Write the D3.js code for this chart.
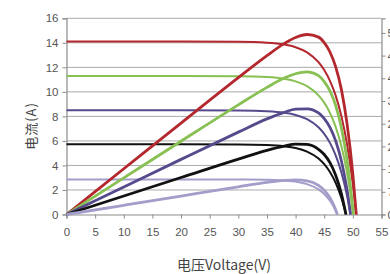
<!DOCTYPE html>
<html><head><meta charset="utf-8">
<script src="https://cdn.jsdelivr.net/npm/d3@7"></script>
<style>
html,body{margin:0;padding:0;background:#fff;overflow:hidden}
svg{display:block}
text{font-family:"Liberation Sans",Arial,sans-serif}
.cjk{font-family:"Noto Sans CJK SC","Liberation Sans",sans-serif}
</style></head>
<body>
<svg id="c" width="390" height="274"></svg>
<script>
// Voltage sample points (V)
const voltage = [0, 10, 20, 30, 35, 38, 40, 42, 44, 45, 46, 47, 48, 49, 50];
const seriesNames = ["S1", "S2", "S3", "S4", "S5"];
const seriesColors = ["#b3272d", "#88c053", "#574a8c", "#111111", "#a29ec9"];
// open-circuit voltage of each series (V)
const voc = [50.6, 50.1, 49.6, 48.8, 47.3];
// current (A), left axis
const current1 = [14.1, 14.1, 14.1, 14.08, 14.01, 13.86, 13.64, 13.22, 12.42, 11.78, 10.9, 9.69, 8.01, 5.68, 2.48];
const current2 = [11.3, 11.3, 11.3, 11.28, 11.21, 11.07, 10.86, 10.47, 9.72, 9.12, 8.29, 7.14, 5.56, 3.38, 0.36];
const current3 = [8.5, 8.5, 8.5, 8.48, 8.42, 8.3, 8.12, 7.77, 7.11, 6.57, 5.84, 4.83, 3.43, 1.5, null];
const current4 = [5.72, 5.72, 5.72, 5.71, 5.66, 5.56, 5.42, 5.13, 4.57, 4.11, 3.47, 2.58, 1.34, null, null];
const current5 = [2.85, 2.85, 2.85, 2.85, 2.83, 2.77, 2.68, 2.48, 2.05, 1.67, 1.12, 0.31, null, null, null];
// power (W), right axis
const power1 = [0, 141, 282, 422, 490, 527, 546, 555, 547, 530, 501, 455, 385, 278, 124];
const power2 = [0, 113, 226, 338, 392, 421, 434, 440, 428, 410, 381, 336, 267, 166, 18];
const power3 = [0, 85, 170, 254, 295, 315, 325, 326, 313, 296, 269, 227, 165, 74, null];
const power4 = [0, 57, 114, 171, 198, 211, 217, 216, 201, 185, 160, 121, 64, null, null];
const power5 = [0, 28.5, 57, 85.5, 99, 105, 107, 104, 90, 75, 52, 15, null, null, null];
// ticks
const xTicks = [0, 5, 10, 15, 20, 25, 30, 35, 40, 45, 50, 55];
const yTicks = [0, 2, 4, 6, 8, 10, 12, 14, 16];
const y2Ticks = [0, 70, 140, 210, 280, 350, 420, 490, 560];
const xTitle = "电压Voltage(V)";
const yTitle = "电流(A)";

const currents = [current1, current2, current3, current4, current5];
const powers = [power1, power2, power3, power4, power5];

const svg = d3.select("#c");
const L = 66.5, R = 381.5, T = 18.3, B = 214.5;
const x = d3.scaleLinear().domain([0, 55]).range([L, R]);
const y = d3.scaleLinear().domain([0, 16]).range([B, T]);
const y2 = d3.scaleLinear().domain([0, 605]).range([B, T]);
const gridC = "#aaaaaa", axisC = "#8c8c8c", txtC = "#555";

// gridlines
svg.append("g").selectAll("line").data(yTicks.filter(d => d > 0)).join("line")
  .attr("x1", L).attr("x2", R).attr("y1", d => y(d)).attr("y2", d => y(d))
  .attr("stroke", gridC).attr("stroke-width", 1);

// axes
const gx = svg.append("g").attr("transform", `translate(0,${B})`)
  .call(d3.axisBottom(x).tickValues(xTicks).tickSize(4).tickPadding(9));
const gy = svg.append("g").attr("transform", `translate(${L},0)`)
  .call(d3.axisLeft(y).tickValues(yTicks).tickSize(4).tickPadding(4));
const gy2 = svg.append("g").attr("transform", `translate(${R},0)`)
  .call(d3.axisRight(y2).tickValues(y2Ticks).tickSize(4).tickPadding(2));
[gx, gy, gy2].forEach(g => {
  g.select(".domain").attr("stroke", axisC).attr("stroke-width", 1.2);
  g.selectAll(".tick line").attr("stroke", axisC);
  g.selectAll(".tick text").attr("fill", txtC).attr("font-size", 11.5)
    .attr("font-family", "'Liberation Sans',Arial,sans-serif");
});

// curves
const line = d3.line().x(d => x(d[0])).y(d => d[1]).curve(d3.curveMonotoneX);
function pts(vals, sc, i) {
  const p = [];
  voltage.forEach((v, k) => { if (vals[k] != null) p.push([v, sc(vals[k])]); });
  p.push([voc[i], sc(0)]);
  return p;
}
const gC = svg.append("g").attr("fill", "none").attr("stroke-linejoin", "round");
currents.forEach((c, i) => {
  gC.append("path").attr("d", line(pts(c, y, i)))
    .attr("stroke", seriesColors[i]).attr("stroke-width", 2);
});
powers.forEach((pw, i) => {
  gC.append("path").attr("d", line(pts(pw, y2, i)))
    .attr("stroke", seriesColors[i]).attr("stroke-width", 2.8);
});

// titles
svg.append("text").attr("class", "cjk").attr("x", 224).attr("y", 270)
  .attr("text-anchor", "middle").attr("font-size", 14).attr("fill", "#444").text(xTitle);
svg.append("text").attr("class", "cjk")
  .attr("transform", "translate(30,126) rotate(-90)")
  .attr("text-anchor", "middle").attr("dominant-baseline", "central")
  .attr("font-size", 13).attr("letter-spacing", 1).attr("fill", "#444").text(yTitle);
</script>
</body></html>
